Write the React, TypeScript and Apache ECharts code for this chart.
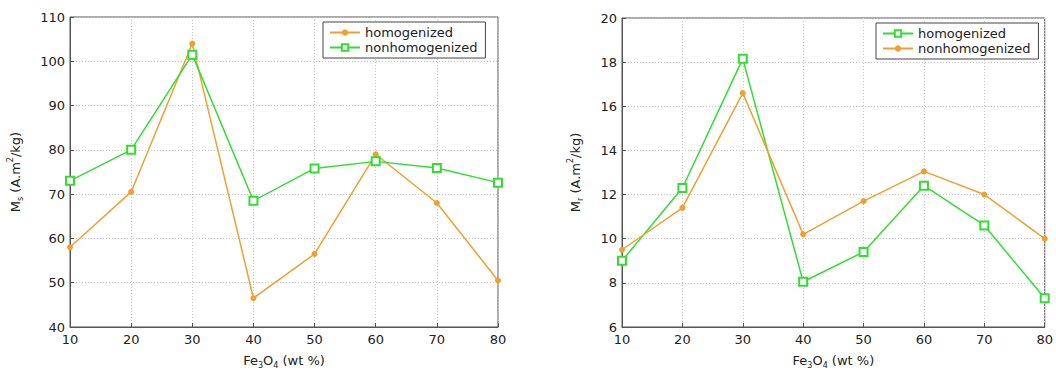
import React, { useEffect, useRef } from "react";
import * as echarts from "echarts";

const xValues = [10, 20, 30, 40, 50, 60, 70, 80];
// Left chart: saturation magnetisation Ms
const msHomogenized = [58, 70.5, 104, 46.5, 56.5, 79, 68, 50.5];
const msNonhomogenized = [73, 80, 101.5, 68.5, 75.8, 77.4, 75.9, 72.6];
// Right chart: remanent magnetisation Mr
const mrHomogenized = [9.0, 12.3, 18.15, 8.05, 9.4, 12.4, 10.6, 7.3];
const mrNonhomogenized = [9.5, 11.4, 16.6, 10.2, 11.7, 13.05, 12.0, 10.0];

const ORANGE = "#f0a030";
const GREEN = "#33dd33";
const FONT = "DejaVu Sans";

const pairs = (ys: number[]) => xValues.map((x, i) => [x, ys[i]]);

export default function App() {
  const ref = useRef<HTMLDivElement>(null);
  useEffect(() => {
    if (!ref.current) return;
    const chart = echarts.init(ref.current, undefined, { renderer: "svg" });
    const axisCommon = {
      axisLine: { show: true, onZero: false, lineStyle: { color: "#555", width: 1 } },
      axisTick: { show: true, inside: true, length: 4, lineStyle: { color: "#555" } },
      splitLine: { show: true, lineStyle: { color: "#c8c8c8", type: [1, 2] as any, width: 1 } },
    };
    const labelStyle = { color: "#222", fontFamily: FONT, fontSize: 13 };
    const richName = {
      n: { fontFamily: FONT, fontSize: 13, color: "#222", lineHeight: 18, verticalAlign: "middle" },
      sub: { fontFamily: FONT, fontSize: 8, color: "#222", lineHeight: 18, verticalAlign: "bottom" },
      sup: { fontFamily: FONT, fontSize: 8, color: "#222", lineHeight: 18, verticalAlign: "top" },
    };
    const xAxisOf = (gridIndex: number) => ({
      type: "value" as const,
      gridIndex,
      min: 10,
      max: 80,
      interval: 10,
      ...axisCommon,
      axisLabel: { ...labelStyle, margin: 6 },
      name: "{n|Fe}{sub|3}{n|O}{sub|4}{n| (wt %)}",
      nameLocation: "middle" as const,
      nameGap: 24,
      nameTextStyle: { rich: richName },
    });
    const lineSeries = (
      name: string,
      data: number[],
      color: string,
      kind: "circle" | "square",
      idx: number
    ) => ({
      type: "line" as const,
      name,
      xAxisIndex: idx,
      yAxisIndex: idx,
      data: pairs(data),
      symbol: kind === "circle" ? "circle" : "emptyRect",
      symbolSize: kind === "circle" ? 6 : 8,
      lineStyle: { color, width: 1.5 },
      itemStyle: { color, borderColor: color, borderWidth: kind === "circle" ? 0 : 1.3 },
      emphasis: { disabled: true },
    });
    const legendCommon = {
      orient: "vertical" as const,
      backgroundColor: "#fff",
      borderColor: "#444",
      borderWidth: 1,
      padding: [4, 8, 4, 6],
      itemGap: 2,
      itemWidth: 30,
      itemHeight: 8,
      textStyle: { fontFamily: FONT, fontSize: 13, color: "#222" },
      formatter: (n: string) => n.trim(),
    };
    chart.setOption({
      animation: false,
      grid: [
        { left: 70, top: 17, width: 428, height: 313, show: true, borderColor: "#555", borderWidth: 1 },
        { left: 622, top: 18, width: 425, height: 312, show: true, borderColor: "#555", borderWidth: 1 },
      ],
      xAxis: [xAxisOf(0), xAxisOf(1)],
      yAxis: [
        {
          type: "value",
          gridIndex: 0,
          min: 40,
          max: 110,
          interval: 10,
          ...axisCommon,
          axisLabel: { ...labelStyle, margin: 5 },
          name: "{n|M}{sub|s}{n| (A.m}{sup|2}{n|/kg)}",
          nameLocation: "middle",
          nameGap: 46,
          nameTextStyle: { rich: richName },
        },
        {
          type: "value",
          gridIndex: 1,
          min: 6,
          max: 20,
          interval: 2,
          ...axisCommon,
          axisLabel: { ...labelStyle, margin: 5 },
          name: "{n|M}{sub|r}{n| (A.m}{sup|2}{n|/kg)}",
          nameLocation: "middle",
          nameGap: 38,
          nameTextStyle: { rich: richName },
        },
      ],
      legend: [
        { ...legendCommon, left: 323, top: 22, data: ["homogenized", "nonhomogenized"] },
        { ...legendCommon, left: 876, top: 23, data: ["homogenized ", "nonhomogenized "] },
      ],
      series: [
        lineSeries("homogenized", msHomogenized, ORANGE, "circle", 0),
        lineSeries("nonhomogenized", msNonhomogenized, GREEN, "square", 0),
        lineSeries("homogenized ", mrHomogenized, GREEN, "square", 1),
        lineSeries("nonhomogenized ", mrNonhomogenized, ORANGE, "circle", 1),
      ],
    });
    return () => chart.dispose();
  }, []);
  return (
    <div
      ref={ref}
      style={{ position: "fixed", left: 0, top: 0, width: 1056, height: 374, background: "#fff" }}
    />
  );
}
